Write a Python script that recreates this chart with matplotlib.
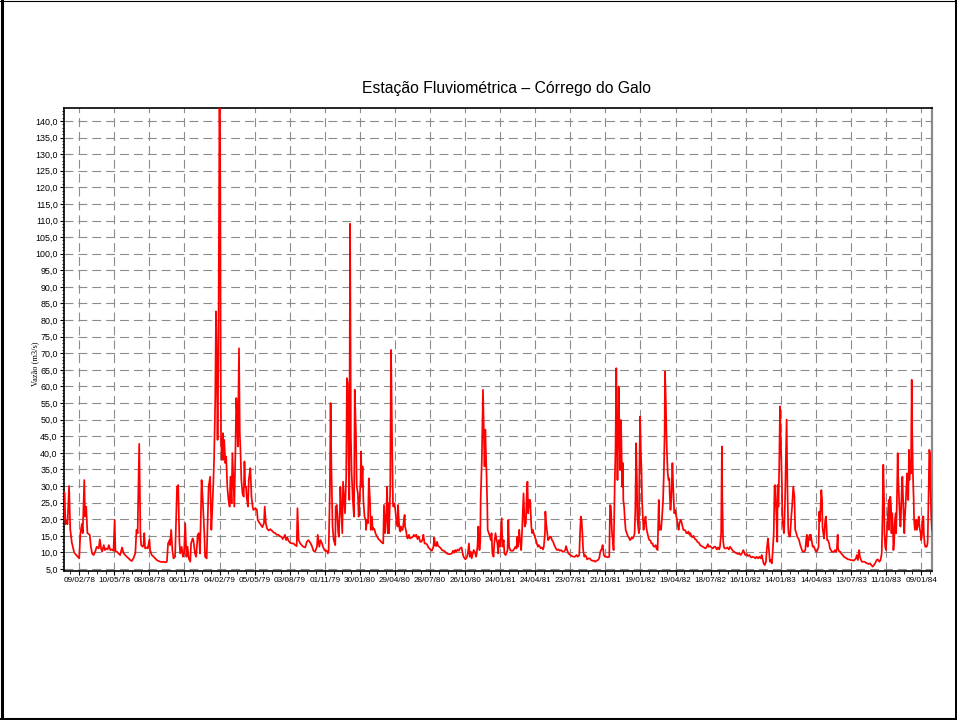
import datetime as dt
import matplotlib
matplotlib.use('Agg')
import matplotlib.pyplot as plt
import matplotlib.dates as mdates
from matplotlib.ticker import MultipleLocator, FuncFormatter, FixedLocator
from matplotlib.lines import Line2D

# Dados: dias desde 01/01/1978 e vazao (m3/s)
inicio = dt.datetime(1978, 1, 1)

dias = [
    0, 1, 4, 7, 9, 13, 16, 20, 26, 33, 39, 42, 46, 48, 52, 54, 57, 60, 66, 69,
    72, 76, 80, 84, 89, 92, 95, 98, 102, 105, 108, 112, 115, 119, 123, 127, 130, 132, 136, 140,
    144, 149, 153, 157, 161, 166, 170, 174, 178, 183, 186, 189, 190, 193, 196, 198, 202, 204, 206, 208,
    213, 215, 219, 221, 225, 230, 234, 238, 243, 247, 251, 255, 260, 264, 267, 271, 272, 275, 278, 281,
    285, 290, 293, 296, 298, 302, 305, 308, 311, 314, 317, 320, 324, 326, 330, 332, 336, 339, 343, 346,
    349, 353, 356, 360, 362, 366, 371, 375, 378, 380, 383, 385, 388, 390, 392, 394, 396, 397, 399, 401,
    402, 403, 405, 408, 409, 411, 414, 416, 419, 422, 425, 427, 430, 432, 435, 437, 440, 442, 444, 446,
    449, 451, 453, 455, 458, 461, 463, 465, 467, 469, 472, 474, 478, 479, 481, 484, 486, 491, 495, 497,
    501, 505, 509, 513, 515, 518, 521, 525, 529, 533, 538, 542, 546, 550, 555, 559, 561, 565, 567, 570,
    573, 576, 580, 585, 589, 593, 597, 599, 602, 606, 610, 614, 619, 623, 627, 632, 636, 640, 644, 649,
    651, 655, 658, 662, 666, 670, 674, 677, 679, 682, 684, 686, 689, 692, 696, 697, 700, 703, 705, 708,
    709, 712, 714, 716, 719, 721, 724, 726, 728, 730, 732, 734, 736, 738, 741, 744, 746, 749, 751, 754,
    756, 758, 761, 762, 764, 766, 768, 771, 774, 775, 777, 780, 782, 785, 787, 790, 792, 794, 797, 799,
    803, 807, 811, 815, 819, 821, 824, 827, 829, 831, 833, 834, 837, 839, 840, 842, 844, 845, 848, 851,
    853, 856, 857, 859, 861, 863, 864, 867, 869, 872, 874, 875, 878, 880, 882, 885, 888, 891, 893, 896,
    898, 901, 904, 907, 910, 914, 917, 921, 922, 925, 928, 932, 935, 939, 944, 948, 950, 952, 955, 957,
    960, 963, 967, 970, 974, 978, 982, 986, 991, 995, 998, 1001, 1004, 1006, 1010, 1013, 1016, 1020, 1022, 1025,
    1028, 1030, 1034, 1036, 1039, 1041, 1044, 1046, 1049, 1051, 1054, 1057, 1059, 1061, 1063, 1064, 1066, 1068, 1069, 1072,
    1074, 1075, 1077, 1079, 1081, 1082, 1084, 1086, 1087, 1090, 1093, 1095, 1097, 1099, 1102, 1104, 1107, 1110, 1112, 1114,
    1116, 1119, 1122, 1123, 1125, 1128, 1130, 1133, 1135, 1138, 1140, 1142, 1145, 1147, 1151, 1153, 1156, 1158, 1161, 1163,
    1165, 1168, 1170, 1173, 1175, 1177, 1179, 1181, 1182, 1185, 1187, 1189, 1191, 1193, 1194, 1196, 1198, 1199, 1201, 1203,
    1205, 1208, 1211, 1213, 1216, 1218, 1221, 1223, 1226, 1229, 1231, 1234, 1235, 1237, 1240, 1242, 1245, 1247, 1250, 1252,
    1255, 1258, 1262, 1265, 1269, 1272, 1276, 1279, 1282, 1286, 1288, 1291, 1294, 1299, 1303, 1307, 1311, 1315, 1318, 1322,
    1324, 1326, 1328, 1330, 1332, 1335, 1337, 1340, 1342, 1346, 1349, 1352, 1356, 1359, 1363, 1366, 1370, 1373, 1376, 1380,
    1382, 1385, 1388, 1392, 1395, 1399, 1401, 1403, 1406, 1408, 1410, 1411, 1413, 1415, 1417, 1418, 1420, 1422, 1423, 1425,
    1427, 1429, 1430, 1432, 1434, 1435, 1437, 1439, 1441, 1444, 1447, 1449, 1452, 1454, 1457, 1459, 1462, 1464, 1466, 1468,
    1470, 1471, 1473, 1475, 1476, 1478, 1480, 1482, 1483, 1485, 1487, 1489, 1490, 1492, 1494, 1495, 1497, 1500, 1502, 1505,
    1507, 1510, 1512, 1515, 1518, 1520, 1523, 1524, 1526, 1528, 1530, 1532, 1535, 1537, 1539, 1541, 1542, 1544, 1546, 1547,
    1549, 1551, 1553, 1554, 1556, 1558, 1559, 1561, 1563, 1565, 1566, 1568, 1571, 1573, 1575, 1577, 1579, 1582, 1584, 1587,
    1589, 1592, 1594, 1597, 1600, 1602, 1605, 1607, 1610, 1612, 1615, 1618, 1620, 1623, 1625, 1629, 1632, 1636, 1639, 1642,
    1646, 1649, 1652, 1654, 1658, 1661, 1665, 1668, 1671, 1675, 1678, 1681, 1683, 1686, 1688, 1689, 1691, 1693, 1695, 1699,
    1702, 1706, 1709, 1712, 1716, 1719, 1723, 1726, 1730, 1733, 1736, 1740, 1743, 1746, 1748, 1752, 1755, 1759, 1761, 1764,
    1767, 1771, 1774, 1777, 1781, 1784, 1788, 1790, 1793, 1795, 1798, 1801, 1803, 1806, 1808, 1811, 1813, 1816, 1818, 1821,
    1823, 1824, 1826, 1828, 1830, 1831, 1833, 1835, 1837, 1838, 1840, 1842, 1843, 1845, 1847, 1848, 1850, 1852, 1854, 1856,
    1858, 1859, 1861, 1863, 1866, 1868, 1871, 1874, 1876, 1879, 1881, 1884, 1886, 1889, 1892, 1894, 1897, 1899, 1902, 1904,
    1906, 1908, 1910, 1913, 1915, 1916, 1918, 1921, 1923, 1926, 1928, 1931, 1933, 1936, 1938, 1939, 1941, 1943, 1945, 1946,
    1948, 1950, 1951, 1953, 1955, 1957, 1958, 1960, 1963, 1965, 1968, 1970, 1973, 1975, 1978, 1981, 1983, 1985, 1986, 1989,
    1992, 1994, 1998, 2001, 2004, 2008, 2011, 2015, 2018, 2022, 2025, 2028, 2032, 2034, 2037, 2040, 2042, 2045, 2047, 2051,
    2054, 2057, 2061, 2064, 2068, 2071, 2075, 2078, 2081, 2085, 2088, 2092, 2095, 2098, 2100, 2102, 2104, 2105, 2107, 2109,
    2110, 2112, 2114, 2116, 2117, 2120, 2122, 2123, 2125, 2127, 2128, 2130, 2132, 2134, 2135, 2137, 2139, 2140, 2142, 2144,
    2146, 2147, 2149, 2151, 2152, 2154, 2156, 2157, 2159, 2161, 2163, 2164, 2166, 2168, 2169, 2171, 2173, 2175, 2176, 2178,
    2180, 2181, 2183, 2185, 2187, 2188, 2190, 2193, 2194, 2196, 2198, 2199, 2201, 2203, 2205, 2206, 2208, 2210, 2211, 2213,
    2215, 2216, 2218, 2220, 2222, 2223, 2225, 2227,
]

vazao = [
    20.0, 28.0, 18.5, 19.5, 18.5, 30.0, 17.0, 13.0, 10.0, 9.0, 8.2, 15.8, 18.6, 15.8, 31.8, 20.8, 23.8, 15.8, 15.3, 11.7,
    9.7, 9.2, 10.2, 11.7, 11.2, 13.9, 11.2, 10.2, 12.2, 10.7, 11.2, 10.9, 12.2, 10.7, 10.9, 10.5, 19.8, 10.2, 10.2, 9.7,
    9.2, 11.5, 9.7, 9.2, 8.7, 8.2, 7.7, 7.4, 8.2, 9.7, 16.8, 15.8, 23.8, 42.7, 15.8, 12.2, 11.7, 12.2, 15.8, 11.2,
    11.5, 11.2, 13.9, 10.7, 9.2, 8.7, 8.2, 7.7, 7.4, 7.2, 7.1, 7.2, 7.0, 7.2, 12.7, 13.7, 12.2, 16.8, 10.7, 8.2,
    8.7, 29.8, 30.3, 13.7, 9.7, 11.7, 8.7, 9.7, 18.8, 8.7, 11.7, 8.2, 7.2, 12.7, 14.2, 13.7, 9.7, 8.7, 15.3, 15.8,
    9.7, 31.8, 25.8, 15.8, 8.7, 8.2, 29.8, 32.8, 16.8, 21.8, 30.3, 37.9, 56.0, 82.6, 68.0, 43.9, 68.0, 90.0, 150.0, 120.0,
    66.0, 43.9, 37.9, 45.9, 37.9, 43.9, 36.9, 38.9, 29.8, 25.8, 23.8, 32.8, 24.8, 39.9, 29.8, 23.8, 41.9, 56.5, 51.0, 41.9,
    71.5, 46.0, 39.9, 31.8, 27.8, 26.8, 37.4, 29.8, 29.8, 26.3, 23.8, 31.8, 35.4, 32.8, 26.8, 23.8, 22.8, 23.3, 22.8, 19.8,
    19.0, 18.3, 17.6, 18.8, 23.8, 18.6, 17.2, 16.6, 17.0, 16.6, 16.0, 15.8, 15.3, 15.3, 14.8, 14.6, 14.0, 14.8, 15.3, 13.7,
    14.5, 13.5, 12.9, 12.7, 12.7, 12.2, 11.9, 23.3, 13.7, 12.7, 12.2, 11.7, 11.5, 13.2, 13.7, 12.9, 11.9, 10.5, 10.2, 11.7,
    15.3, 11.7, 13.7, 12.7, 11.2, 10.5, 10.5, 9.7, 10.5, 27.8, 55.0, 35.9, 17.8, 13.7, 12.2, 23.8, 24.3, 16.8, 14.7, 23.8,
    29.8, 21.8, 15.8, 31.3, 25.8, 21.8, 32.8, 62.5, 61.0, 37.9, 25.8, 109.0, 45.0, 33.8, 25.8, 20.8, 59.0, 45.9, 29.8, 27.8,
    20.8, 24.8, 31.8, 40.4, 29.8, 35.9, 25.8, 20.8, 19.8, 16.8, 19.8, 18.8, 32.3, 25.8, 16.8, 20.8, 16.8, 17.3, 16.8, 15.8,
    14.8, 14.0, 13.6, 13.0, 12.7, 24.3, 15.8, 21.8, 29.8, 15.8, 24.8, 15.8, 29.8, 71.0, 62.0, 40.9, 24.8, 23.8, 24.8, 21.8,
    18.8, 17.8, 24.3, 19.8, 16.8, 16.3, 17.8, 16.8, 16.8, 19.8, 21.3, 17.8, 16.3, 14.5, 14.2, 15.3, 14.2, 14.5, 14.5, 14.9,
    15.3, 14.8, 15.3, 14.0, 14.8, 13.2, 13.2, 14.2, 15.3, 12.7, 12.7, 12.3, 11.5, 11.0, 10.5, 11.8, 14.5, 12.2, 11.9, 13.2,
    11.9, 11.7, 11.2, 10.7, 10.5, 10.2, 9.7, 9.5, 9.5, 9.7, 10.5, 9.9, 10.7, 10.2, 10.9, 10.5, 11.2, 11.5, 10.2, 8.7,
    8.2, 7.9, 8.7, 9.7, 12.7, 8.7, 10.2, 8.2, 9.7, 10.7, 10.2, 8.7, 9.7, 12.2, 17.8, 14.2, 10.7, 13.2, 25.8, 37.9,
    50.9, 59.0, 48.0, 35.9, 47.0, 41.9, 33.8, 23.8, 16.8, 15.8, 14.8, 13.7, 15.8, 9.7, 8.7, 12.7, 15.8, 13.7, 12.7, 9.7,
    13.7, 11.7, 17.8, 20.3, 11.7, 13.7, 9.7, 9.2, 9.7, 10.7, 19.8, 11.7, 10.7, 10.5, 10.5, 10.7, 11.2, 11.7, 11.2, 14.7,
    11.7, 16.8, 13.7, 10.7, 15.8, 21.8, 27.8, 20.8, 17.8, 18.8, 26.8, 31.3, 21.8, 25.8, 23.8, 25.8, 20.8, 17.8, 15.8, 16.8,
    15.8, 14.8, 13.7, 12.7, 11.7, 12.2, 11.7, 11.2, 11.5, 10.9, 11.7, 15.8, 22.3, 18.8, 15.8, 13.7, 14.2, 14.8, 14.5, 13.7,
    13.2, 12.2, 11.2, 10.7, 10.9, 10.5, 10.7, 10.2, 10.2, 10.7, 11.9, 10.7, 9.7, 9.2, 8.9, 8.7, 8.7, 9.2, 8.7, 9.2,
    15.8, 20.8, 19.8, 15.8, 10.7, 8.7, 9.2, 8.7, 7.9, 8.2, 8.2, 7.7, 7.5, 7.5, 7.2, 7.5, 7.7, 8.2, 10.2, 11.2,
    12.2, 9.2, 8.7, 8.7, 8.5, 8.7, 24.3, 23.8, 15.8, 13.7, 10.7, 15.8, 30.8, 40.9, 65.5, 51.0, 31.8, 45.9, 60.0, 48.0,
    34.8, 49.9, 43.9, 29.8, 36.9, 25.8, 23.8, 19.8, 16.8, 15.8, 14.8, 14.6, 13.7, 13.9, 14.6, 14.2, 14.8, 15.8, 23.8, 42.9,
    30.8, 20.8, 17.8, 15.8, 30.8, 50.9, 40.9, 32.8, 25.8, 20.8, 16.8, 19.8, 18.8, 20.8, 17.8, 16.8, 15.8, 14.2, 13.7, 13.5,
    12.7, 12.7, 11.9, 11.7, 12.2, 11.2, 10.7, 15.8, 25.8, 16.8, 17.8, 16.8, 21.8, 25.8, 33.8, 45.9, 64.5, 56.0, 43.9, 39.9,
    33.8, 31.8, 32.3, 27.8, 22.8, 25.8, 29.8, 36.9, 29.8, 23.8, 21.8, 22.8, 20.8, 19.8, 17.8, 16.8, 18.8, 19.8, 19.3, 17.8,
    16.8, 16.8, 16.6, 15.8, 15.8, 16.3, 15.3, 15.8, 14.8, 14.6, 15.0, 14.2, 13.9, 13.7, 13.2, 12.9, 12.2, 11.9, 11.7, 11.5,
    11.2, 11.7, 12.5, 11.7, 11.9, 11.5, 11.2, 11.7, 11.7, 10.9, 11.5, 10.9, 11.7, 15.8, 41.9, 25.8, 13.7, 11.7, 11.2, 11.2,
    11.5, 10.9, 11.7, 11.2, 10.5, 10.2, 9.9, 9.7, 9.5, 9.7, 9.2, 9.9, 10.7, 9.7, 9.2, 9.5, 8.9, 9.2, 8.7, 8.5,
    8.7, 8.5, 8.2, 8.7, 8.2, 8.7, 8.2, 9.2, 7.7, 6.7, 6.2, 7.2, 10.7, 14.2, 11.7, 7.2, 7.7, 6.7, 9.7, 15.8,
    29.8, 30.3, 25.8, 20.8, 13.2, 30.3, 23.8, 35.9, 54.0, 48.0, 39.9, 29.8, 20.8, 17.8, 15.8, 17.8, 25.8, 37.9, 50.0, 30.0,
    17.8, 15.8, 14.8, 14.8, 20.8, 23.8, 29.8, 26.8, 16.8, 15.8, 14.8, 14.2, 13.7, 12.2, 11.2, 10.5, 10.2, 10.2, 10.7, 13.7,
    15.3, 11.7, 13.7, 15.3, 13.7, 15.3, 13.7, 11.7, 11.9, 11.2, 10.5, 10.2, 10.7, 11.7, 22.3, 19.3, 22.8, 28.8, 25.8, 17.8,
    15.8, 14.2, 15.8, 19.8, 20.8, 15.8, 13.7, 13.7, 12.7, 11.2, 10.7, 10.2, 10.2, 10.2, 10.7, 10.2, 11.2, 15.3, 11.2, 10.2,
    10.2, 9.7, 9.2, 8.7, 8.5, 8.2, 7.9, 7.9, 7.7, 7.7, 7.5, 7.7, 8.2, 9.2, 7.7, 10.7, 8.7, 7.7, 7.2, 7.2,
    7.2, 6.9, 6.7, 6.5, 6.7, 6.2, 5.7, 6.2, 6.7, 7.7, 7.9, 7.2, 7.7, 9.7, 20.8, 36.4, 25.8, 15.8, 11.7, 10.7,
    13.7, 17.8, 21.8, 25.8, 16.8, 26.8, 23.8, 15.8, 21.8, 16.8, 10.7, 13.7, 19.8, 21.8, 15.8, 25.8, 39.9, 33.8, 27.8, 21.8,
    17.8, 19.8, 27.8, 32.8, 28.8, 21.8, 15.8, 19.8, 23.8, 28.8, 33.8, 29.8, 25.8, 40.9, 31.8, 37.9, 33.8, 62.0, 48.0, 33.8,
    25.8, 19.8, 16.8, 17.8, 19.8, 16.8, 17.8, 20.8, 18.8, 16.8, 15.8, 13.7, 14.8, 20.8, 20.8, 15.8, 12.7, 11.7, 11.9, 11.7,
    12.2, 13.7, 25.8, 40.9, 39.9, 29.8, 20.8, 16.8,
]

rotulos_x = ['09/02/78', '10/05/78', '08/08/78', '06/11/78', '04/02/79', '05/05/79', '03/08/79',
             '01/11/79', '30/01/80', '29/04/80', '28/07/80', '26/10/80', '24/01/81', '24/04/81',
             '23/07/81', '21/10/81', '19/01/82', '19/04/82', '18/07/82', '16/10/82', '14/01/83',
             '14/04/83', '13/07/83', '11/10/83', '09/01/84']

datas = [inicio + dt.timedelta(days=d) for d in dias]
ticks_x = [dt.datetime.strptime(r, '%d/%m/%y') for r in rotulos_x]

fig = plt.figure(figsize=(9.57, 7.2), dpi=100)
ax = fig.add_axes([64 / 957, 1 - 571 / 720, (932 - 64) / 957, (571 - 108) / 720])

ax.plot(datas, vazao, color='#ff0000', lw=1.25, zorder=3)

ax.set_xlim(inicio, inicio + dt.timedelta(days=2227))
ax.set_ylim(4.4, 143.9)

# eixo x: datas a cada 90 dias
ax.set_xticks(ticks_x)
ax.set_xticklabels(rotulos_x)
t0 = mdates.date2num(ticks_x[0])
ax.xaxis.set_minor_locator(FixedLocator([t0 + 22.5 * k for k in range(-2, 100)]))

# eixo y com virgula decimal
ax.yaxis.set_major_locator(MultipleLocator(5))
ax.yaxis.set_minor_locator(MultipleLocator(1))
ax.yaxis.set_major_formatter(FuncFormatter(lambda v, p: f'{v:.1f}'.replace('.', ',')))

ax.grid(True, which='major', color='#8c8c8c', linestyle=(0, (8, 4.5)), lw=0.8)
ax.tick_params(axis='both', which='major', direction='out', length=3, width=0.8,
               pad=1.5, colors='black')
ax.tick_params(axis='x', which='major', labelsize=5.9)
ax.tick_params(axis='y', which='major', labelsize=6.4)
ax.tick_params(axis='both', which='minor', direction='out', length=1.8, width=0.6)
for lab in ax.get_xticklabels() + ax.get_yticklabels():
    lab.set_family('Liberation Sans')

for lado in ['left', 'top', 'bottom']:
    ax.spines[lado].set_color('black')
    ax.spines[lado].set_linewidth(1.2)
ax.spines['right'].set_color('#8a8a8a')
ax.spines['right'].set_linewidth(1.6)

fig.text(507 / 957, 1 - 88 / 720, 'Estação Fluviométrica – Córrego do Galo',
         ha='center', va='center', fontsize=11.3, family='Liberation Sans')
fig.text(35 / 957, 1 - 364 / 720, 'Vazão (m3/s)', rotation=90, ha='center', va='center',
         fontsize=6, family='Liberation Serif')

# moldura da figura
for xs, ys, w in [([1.5 / 957, 1.5 / 957], [0, 1], 2.2),
                  ([0, 1], [1.5 / 720, 1.5 / 720], 2.2),
                  ([0, 1], [1 - 0.5 / 720, 1 - 0.5 / 720], 0.8),
                  ([1 - 1.5 / 957, 1 - 1.5 / 957], [0, 1], 1.4)]:
    fig.add_artist(Line2D(xs, ys, transform=fig.transFigure, color='black', lw=w))

fig.savefig('out.png', dpi=100)
